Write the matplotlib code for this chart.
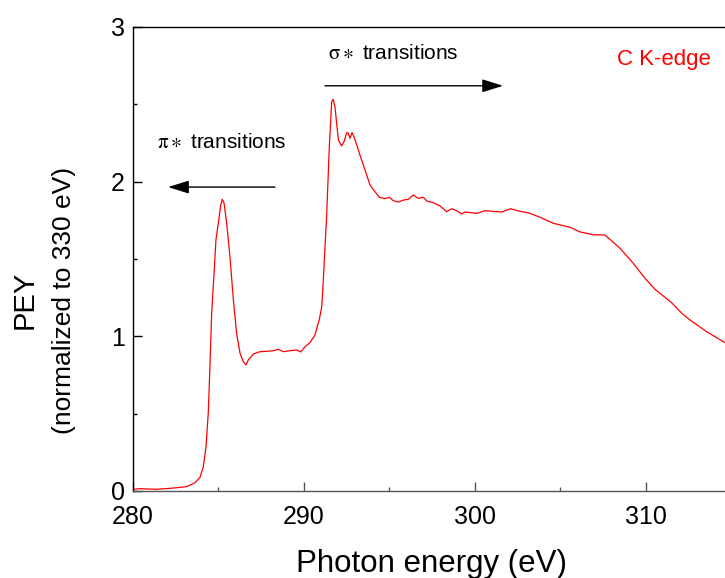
import matplotlib
matplotlib.use("Agg")
import matplotlib.pyplot as plt
from matplotlib.ticker import MultipleLocator

plt.rcParams['font.family'] = ['Liberation Sans', 'DejaVu Sans']
plt.rcParams['mathtext.fontset'] = 'stix'

energy = [280.02, 280.41, 281.39, 282.36, 283.14, 283.63, 283.92, 284.11, 284.27, 284.40,
          284.50, 284.60, 284.74, 284.85, 284.99, 285.13, 285.22, 285.32, 285.48, 285.67,
          285.87, 286.06, 286.26, 286.45, 286.61, 286.74, 287.04, 287.43, 287.82, 288.20,
          288.50, 288.79, 289.18, 289.57, 289.81, 290.06, 290.35, 290.64, 290.89, 291.04,
          291.13, 291.23, 291.33, 291.48, 291.62, 291.70, 291.81, 291.91, 292.01, 292.20,
          292.34, 292.50, 292.59, 292.69, 292.81, 292.92, 293.12, 293.27, 293.57, 293.86,
          294.15, 294.40, 294.74, 294.99, 295.22, 295.51, 295.81, 296.10, 296.39, 296.68,
          296.98, 297.18, 297.56, 297.95, 298.35, 298.64, 298.93, 299.22, 299.42, 300.10,
          300.58, 301.56, 302.09, 302.63, 303.12, 303.80, 304.58, 305.56, 306.14, 306.92,
          307.60, 308.48, 309.26, 309.94, 310.53, 311.50, 312.09, 312.57, 313.55, 314.62,
          315.50]
pey = [0.011, 0.015, 0.011, 0.019, 0.028, 0.054, 0.089, 0.157, 0.286, 0.502,
       0.804, 1.149, 1.408, 1.623, 1.731, 1.849, 1.886, 1.864, 1.731, 1.515,
       1.235, 1.020, 0.890, 0.836, 0.815, 0.847, 0.886, 0.901, 0.903, 0.907,
       0.916, 0.901, 0.907, 0.912, 0.899, 0.933, 0.959, 1.009, 1.106, 1.192,
       1.364, 1.580, 1.795, 2.226, 2.517, 2.532, 2.485, 2.377, 2.269, 2.231,
       2.258, 2.317, 2.313, 2.280, 2.317, 2.291, 2.226, 2.172, 2.075, 1.978,
       1.935, 1.899, 1.890, 1.899, 1.877, 1.868, 1.881, 1.886, 1.914, 1.892,
       1.899, 1.875, 1.864, 1.843, 1.806, 1.825, 1.812, 1.791, 1.804, 1.795,
       1.812, 1.804, 1.825, 1.808, 1.799, 1.770, 1.731, 1.705, 1.675, 1.657,
       1.655, 1.569, 1.472, 1.375, 1.304, 1.217, 1.149, 1.106, 1.030, 0.959,
       0.900]

xticks = [280, 290, 300, 310]
yticks = [0, 1, 2, 3]

fig = plt.figure(figsize=(7.25, 5.78), dpi=100)
ax = fig.add_axes([133/725, 87/578, 1 - 133/725, 464/578])
ax.plot(energy, pey, color='red', lw=0.9)
ax.set_xlim(280, 314.62)
ax.set_ylim(0, 3)

ax.set_xticks(xticks)
ax.set_yticks(yticks)
ax.set_xticklabels([str(t) for t in xticks])
ax.set_yticklabels([str(t) for t in yticks])
ax.xaxis.set_minor_locator(MultipleLocator(5))
ax.yaxis.set_minor_locator(MultipleLocator(0.5))
ax.tick_params(axis='both', which='major', direction='in', length=6.5, width=1.0, labelsize=18)
ax.tick_params(axis='both', which='minor', direction='in', length=3, width=1.0)
ax.tick_params(axis='x', which='both', pad=10, colors='#555555', labelcolor='black')
ax.tick_params(axis='y', which='both', pad=6)

ax.spines['right'].set_visible(False)
for s in ['left', 'top', 'bottom']:
    ax.spines[s].set_linewidth(1.0)
ax.spines['bottom'].set_color('#555555')

# annotations
ax.annotate('', xy=(282.05, 1.965), xytext=(288.30, 1.965),
            arrowprops=dict(arrowstyle='-|>,head_length=0.8,head_width=0.25', color='black', lw=1.0,
                            mutation_scale=16, shrinkA=0, shrinkB=0))
ax.annotate('', xy=(301.64, 2.62), xytext=(291.23, 2.62),
            arrowprops=dict(arrowstyle='-|>,head_length=0.8,head_width=0.25', color='black', lw=1.0,
                            mutation_scale=16, shrinkA=0, shrinkB=0))
ax.text(281.40, 2.256, r'$\mathrm{\pi}\ast$ transitions', fontsize=15, ha='left', va='center')
ax.text(291.40, 2.83, r'$\mathrm{\sigma}\ast$ transitions', fontsize=15, ha='left', va='center')
ax.text(308.30, 2.787, 'C K-edge', fontsize=16, color='red', ha='left', va='center')

fig.text(432/725, 6/578, 'Photon energy (eV)', fontsize=22.5, ha='center', va='baseline')
fig.text(25/725, 1 - 300/578, 'PEY', fontsize=21, rotation=90, ha='center', va='center')
fig.text(64/725, 1 - 300/578, '(normalized to 330 eV)', fontsize=19, rotation=90,
         ha='center', va='center')

fig.savefig('out.png', dpi=100)
